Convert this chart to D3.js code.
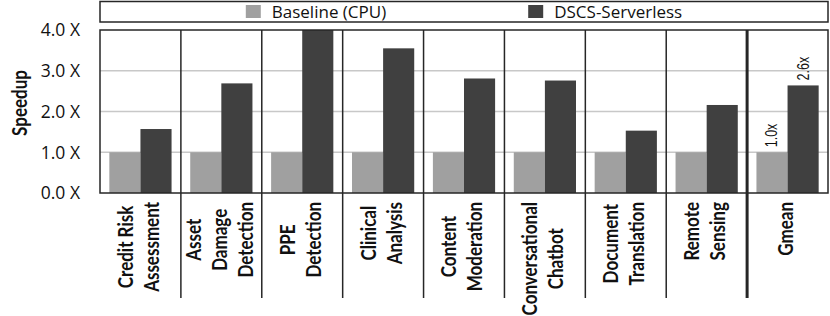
<!DOCTYPE html>
<html>
<head>
<meta charset="utf-8">
<script src="https://cdn.jsdelivr.net/npm/d3@7"></script>
<style>
  html, body { margin: 0; padding: 0; background: #fff; }
  svg { display: block; }
</style>
</head>
<body>
<svg id="chart" width="830" height="316"></svg>
<script>
// chart values
const categories = [
  ["Credit Risk", "Assessment"],
  ["Asset", "Damage", "Detection"],
  ["PPE", "Detection"],
  ["Clinical", "Analysis"],
  ["Content", "Moderation"],
  ["Conversational", "Chatbot"],
  ["Document", "Translation"],
  ["Remote", "Sensing"],
  ["Gmean"]
];
const seriesNames = ["Baseline (CPU)", "DSCS-Serverless"];
const baselineCPU = [1.0, 1.0, 1.0, 1.0, 1.0, 1.0, 1.0, 1.0, 1.0];
const dscsServerless = [1.57, 2.69, 4.0, 3.55, 2.81, 2.76, 1.53, 2.16, 2.64];
const yTicks = [0, 1, 2, 3, 4];
const gmeanLabels = ["1.0x", "2.6x"];

const COLORS = ["#a0a0a0", "#404040"];
const LINE = "#262626";
// the picture is a little wide, so rotated text gets thicker glyphs
const STRETCH = 1.25;

const svg = d3.select("#chart");
const margin = { left: 100, right: 2, top: 30, plotBottom: 193 };
const W = 830;

const keys = categories.map(d => d.join(" "));
const x = d3.scaleBand().domain(keys).range([margin.left, W - margin.right]);
const xs = d3.scaleBand().domain(seriesNames).range([0, x.bandwidth()]).paddingOuter(0.3);
const y = d3.scaleLinear().domain([0, 4]).range([margin.plotBottom, margin.top]);

// gridlines
svg.append("g")
  .selectAll("line")
  .data(yTicks.filter(t => t > 0 && t < 4))
  .join("line")
  .attr("x1", x.range()[0]).attr("x2", x.range()[1])
  .attr("y1", d => y(d)).attr("y2", d => y(d))
  .attr("stroke", "#c8c8c8").attr("stroke-width", 1.5);

// bars
const rows = keys.map((k, i) => ({ key: k, vals: [baselineCPU[i], dscsServerless[i]] }));
svg.append("g")
  .selectAll("g")
  .data(rows)
  .join("g")
  .attr("transform", d => `translate(${x(d.key)},0)`)
  .selectAll("rect")
  .data(d => d.vals.map((v, j) => ({ name: seriesNames[j], v, j })))
  .join("rect")
  .attr("x", d => xs(d.name))
  .attr("width", xs.bandwidth())
  .attr("y", d => y(d.v))
  .attr("height", d => y(0) - y(d.v))
  .attr("fill", d => COLORS[d.j]);

// group dividers, running down through the label area
const divBottom = 298;
svg.append("g")
  .selectAll("line")
  .data(keys.slice(1))
  .join("line")
  .attr("x1", d => x(d)).attr("x2", d => x(d))
  .attr("y1", margin.top).attr("y2", divBottom)
  .attr("stroke", LINE)
  .attr("stroke-width", d => d === "Gmean" ? 3 : 1.5);

// plot frame
svg.append("rect")
  .attr("x", x.range()[0]).attr("y", y(4))
  .attr("width", x.range()[1] - x.range()[0])
  .attr("height", y(0) - y(4))
  .attr("fill", "none").attr("stroke", LINE).attr("stroke-width", 1.5);

// y axis labels
svg.append("g")
  .selectAll("text")
  .data(yTicks)
  .join("text")
  .attr("x", 80)
  .attr("y", d => y(d))
  .attr("dy", "0.36em")
  .attr("text-anchor", "end")
  .attr("font-family", "Open Sans")
  .attr("font-size", 17.5)
  .attr("fill", "#111")
  .text(d => d3.format(".1f")(d) + " X");

svg.append("text")
  .attr("transform", `translate(20,103) rotate(-90) scale(1,${STRETCH})`)
  .attr("dy", "0.35em")
  .attr("text-anchor", "middle")
  .attr("font-family", "Lato")
  .attr("font-weight", "bold")
  .attr("font-size", 17)
  .attr("fill", "#111")
  .text("Speedup");

// category labels, rotated, lines centred on each other
const labelTop = 202, lineStep = 26;
categories.forEach((lines, i) => {
  const cx = x(keys[i]) + x.bandwidth() / 2 - 2;
  const g = svg.append("g");
  const ts = g.selectAll("text")
    .data(lines)
    .join("text")
    .attr("text-anchor", "middle")
    .attr("dy", "0.35em")
    .attr("font-family", "Lato")
    .attr("font-weight", "bold")
    .attr("font-size", 17)
    .attr("fill", "#111")
    .text(d => d);
  const maxLen = d3.max(ts.nodes(), n => n.getComputedTextLength());
  const cy = labelTop + maxLen / 2;
  ts.attr("transform", (d, j) =>
    `translate(${cx + (j - (lines.length - 1) / 2) * lineStep},${cy}) rotate(-90) scale(1,${STRETCH})`);
});

// value labels on the Gmean group
const gi = keys.length - 1;
svg.append("g")
  .selectAll("text")
  .data(gmeanLabels)
  .join("text")
  .attr("transform", (d, j) => {
    const bx = x(keys[gi]) + xs(seriesNames[j]) + xs.bandwidth() / 2;
    const v = j === 0 ? baselineCPU[gi] : dscsServerless[gi];
    return `translate(${bx},${y(v) - 5}) rotate(-90) scale(1,${STRETCH})`;
  })
  .attr("dy", "0.35em")
  .attr("font-family", "Liberation Sans")
  .attr("font-size", 12.5)
  .attr("fill", "#111")
  .text(d => d);

// legend
const legend = svg.append("g");
legend.append("rect")
  .attr("x", x.range()[0]).attr("y", 1.5)
  .attr("width", x.range()[1] - x.range()[0]).attr("height", 20.5)
  .attr("fill", "#fff").attr("stroke", LINE).attr("stroke-width", 1.5);

const sw = 15, sh = 13, txtGap = 11, itemGap = 142;
const items = legend.selectAll("g.item")
  .data(seriesNames)
  .join("g")
  .attr("class", "item");
items.append("rect")
  .attr("width", sw).attr("height", sh)
  .attr("y", 11.5 - sh / 2)
  .attr("fill", (d, i) => COLORS[i]);
items.append("text")
  .attr("x", sw + txtGap)
  .attr("y", 11.5)
  .attr("dy", "0.36em")
  .attr("font-family", "Open Sans")
  .attr("font-size", 17)
  .attr("fill", "#111")
  .text(d => d);
const widths = items.nodes().map(n => n.getBBox().width);
const total = d3.sum(widths) + itemGap;
let cursor = (x.range()[0] + x.range()[1]) / 2 - total / 2;
items.attr("transform", (d, i) => {
  const t = `translate(${cursor},0)`;
  cursor += widths[i] + itemGap;
  return t;
});
</script>
</body>
</html>
